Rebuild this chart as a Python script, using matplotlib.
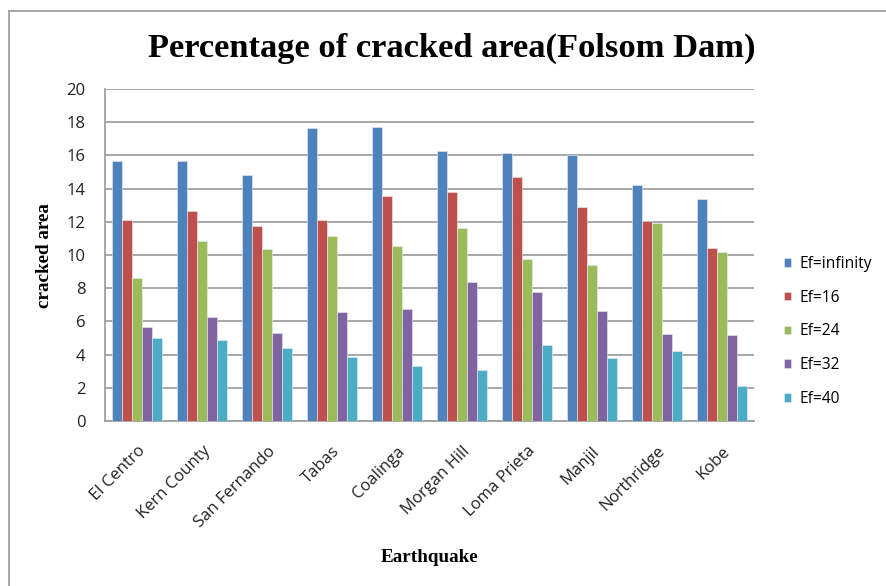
import matplotlib
matplotlib.use("Agg")
import matplotlib.pyplot as plt
import numpy as np
from matplotlib.lines import Line2D

# data
quakes = ["El Centro", "Kern County", "San Fernando", "Tabas", "Coalinga",
          "Morgan Hill", "Loma Prieta", "Manjil", "Northridge", "Kobe"]
series_names = ["Ef=infinity", "Ef=16", "Ef=24", "Ef=32", "Ef=40"]
ef_inf = [15.65, 15.65, 14.84, 17.63, 17.71, 16.25, 16.17, 16.05, 14.24, 13.38]
ef_16 = [12.08, 12.68, 11.76, 12.08, 13.54, 13.80, 14.68, 12.88, 12.04, 10.43]
ef_24 = [8.60, 10.87, 10.35, 11.13, 10.53, 11.65, 9.75, 9.39, 11.90, 10.17]
ef_32 = [5.66, 6.26, 5.32, 6.54, 6.72, 8.37, 7.76, 6.62, 5.24, 5.16]
ef_40 = [5.00, 4.90, 4.39, 3.85, 3.33, 3.07, 4.55, 3.77, 4.19, 2.13]
colors = ["#4F81BD", "#C0504D", "#9BBB59", "#8064A2", "#4BACC6"]

W, H = 887, 586
fig = plt.figure(figsize=(W / 100, H / 100), dpi=100)
ax = fig.add_axes([105 / W, 1 - 421 / H, (754 - 105) / W, (421 - 89) / H])

x = np.arange(len(quakes))
bw = 0.154
all_series = [ef_inf, ef_16, ef_24, ef_32, ef_40]
for i, (vals, name, c) in enumerate(zip(all_series, series_names, colors)):
    ax.bar(x + (i - 2) * bw, vals, bw, color=c, label=name,
           edgecolor="#e8eef6", linewidth=0.4, zorder=3)

ax.set_xlim(-0.5, len(quakes) - 0.5)
ax.set_ylim(0, 20)
ax.set_yticks(range(0, 21, 2))
ax.yaxis.grid(True, color="#a0a0a0", linewidth=1.3, zorder=0)
ax.set_axisbelow(True)
for s in ["top", "right"]:
    ax.spines[s].set_visible(False)
for s in ["left", "bottom"]:
    ax.spines[s].set_color("#a0a0a0")
    ax.spines[s].set_linewidth(1.3)
ax.tick_params(axis="both", length=0, labelsize=12, labelcolor="#222222")
ax.tick_params(axis="y", pad=14)
ax.tick_params(axis="x", pad=16)
ax.set_xticks(x)
ax.set_xticklabels(quakes, rotation=45, ha="right", rotation_mode="anchor",
                   fontfamily="Open Sans", fontsize=12)
for lbl in ax.get_yticklabels():
    lbl.set_fontfamily("Open Sans")

fig.text(452 / W, 1 - 57 / H, "Percentage of cracked area(Folsom Dam)",
         ha="center", va="baseline", fontfamily="Liberation Serif",
         fontweight="bold", fontsize=24.8)
fig.text(45 / W, 1 - 256 / H, "cracked area", rotation=90, ha="center",
         va="center", fontfamily="Liberation Serif", fontweight="bold",
         fontsize=13.8)
fig.text(430 / W, 1 - 557 / H, "Earthquake", ha="center", va="center",
         fontfamily="Liberation Serif", fontweight="bold", fontsize=13.8)

leg = fig.legend(loc="upper left", bbox_to_anchor=(770 / W, 1 - 242 / H),
                 frameon=False, prop={"family": "Open Sans", "size": 11.2},
                 handlelength=0.45, handleheight=0.45, labelspacing=1.14,
                 handletextpad=0.56)

# outer chart border (top and left visible)
fig.add_artist(Line2D([9 / W, 9 / W], [0, 1 - 11 / H], transform=fig.transFigure,
                      color="#a0a0a0", linewidth=1.3))
fig.add_artist(Line2D([9 / W, 1], [1 - 11 / H, 1 - 11 / H], transform=fig.transFigure,
                      color="#a0a0a0", linewidth=1.3))

fig.savefig("out.png", dpi=100)
